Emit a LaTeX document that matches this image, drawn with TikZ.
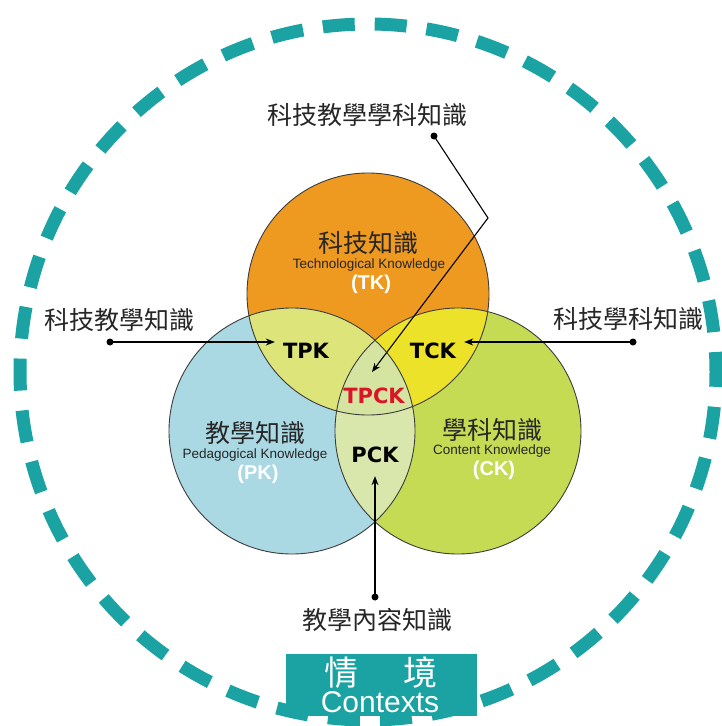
\documentclass[tikz,border=0pt]{standalone}
\usepackage{fontspec}
\setmainfont{Liberation Sans}
\newfontfamily\cjk{Noto Sans CJK TC}
\newfontfamily\heavy{DejaVu Sans}
\usetikzlibrary{arrows.meta}
\definecolor{tkc}{RGB}{238,154,32}
\definecolor{pkc}{RGB}{170,217,227}
\definecolor{ckc}{RGB}{198,219,84}
\definecolor{tpkc}{RGB}{220,228,122}
\definecolor{tckc}{RGB}{237,226,42}
\definecolor{pckc}{RGB}{218,231,172}
\definecolor{tpckc}{RGB}{214,228,162}
\definecolor{ctxc}{RGB}{27,163,163}
\definecolor{edgec}{RGB}{60,60,60}
\definecolor{tpckred}{RGB}{220,20,40}
\tikzset{
  zh/.style={font=\cjk\fontsize{25}{27}\selectfont, text=black!85, inner sep=0pt},
  en/.style={font=\fontsize{13.5}{15}\selectfont, text=black!85, inner sep=0pt},
  abbr/.style={font=\bfseries\fontsize{20}{22}\selectfont, text=white, inner sep=0pt},
  mid/.style={font=\heavy\bfseries\fontsize{21}{23}\selectfont, text=black, inner sep=0pt},
  outline/.style={draw=edgec, line width=0.9pt},
  conn/.style={line width=1.1pt, black},
  arr/.style={conn, -{Stealth[length=9pt,width=7pt]}},
  dot/.style={circle, fill=black, inner sep=0pt, minimum size=7pt}
}
\begin{document}
\begin{tikzpicture}[x=1pt,y=-1pt]
\useasboundingbox (0,0) rectangle (722,726);
\fill[white] (0,0) rectangle (722,726);

% context box
\fill[ctxc] (286,654) rectangle (477,716);

% dashed context circle
\draw[ctxc, line width=13pt, dash pattern=on 32pt off 20pt, dash phase=12pt]
  (368,372) circle[radius=348pt];

% circles
\coordinate (tkO) at (368,294);
\coordinate (pkO) at (292,431);
\coordinate (ckO) at (458,431);
\fill[tkc] (tkO) circle[radius=121pt];
\fill[pkc] (pkO) circle[radius=123pt];
\fill[ckc] (ckO) circle[radius=123pt];
\begin{scope}
  \clip (tkO) circle[radius=121pt];
  \fill[tpkc] (pkO) circle[radius=123pt];
  \fill[tckc] (ckO) circle[radius=123pt];
\end{scope}
\begin{scope}
  \clip (pkO) circle[radius=123pt];
  \fill[pckc] (ckO) circle[radius=123pt];
  \clip (ckO) circle[radius=123pt];
  \fill[tpckc] (tkO) circle[radius=121pt];
\end{scope}
\draw[outline] (tkO) circle[radius=121pt];
\draw[outline] (pkO) circle[radius=123pt];
\draw[outline] (ckO) circle[radius=123pt];

% circle labels
\node[zh] (tkzh) at (368,243) {科技知識};
\node[en] (tken) at (369,265) {Technological Knowledge};
\node[abbr] (tkab) at (371,284) {(TK)};
\node[zh] (pkzh) at (255,433) {教學知識};
\node[en] (pken) at (255,455) {Pedagogical Knowledge};
\node[abbr] (pkab) at (258,474) {(PK)};
\node[zh] (ckzh) at (492,430) {學科知識};
\node[en] (cken) at (492,451) {Content Knowledge};
\node[abbr] (ckab) at (494,470) {(CK)};

% overlap labels
\node[mid] (tpk) at (306,351) {TPK};
\node[mid] (tck) at (433,351) {TCK};
\node[mid, text=tpckred] (tpck) at (374,396) {TPCK};
\node[mid] (pck) at (375,455) {PCK};

% outside labels
\node[zh] (lbtop) at (367,115) {科技教學學科知識};
\node[zh] (lbleft) at (120,320) {科技教學知識};
\node[zh] (lbright) at (628,319) {科技學科知識};
\node[zh] (lbbot) at (377,620) {教學內容知識};

% connectors
\node[dot] (dtop) at (434,136) {};
\coordinate (bend) at (488,218);
\coordinate (ttop) at (372,372);
\draw[arr] (dtop.center) -- (bend) -- (ttop);

\node[dot] (dleft) at (110,342) {};
\draw[arr] (dleft.center) -- ([xshift=-8pt]dleft -| tpk.west);
\node[dot] (dright) at (633,342) {};
\draw[arr] (dright.center) -- ([xshift=8pt]dright -| tck.east);
\node[dot] (dbot) at (375,597) {};
\draw[arr] (dbot.center) -- ([yshift=-13pt]pck.south);

% context text
\node[font=\cjk\fontsize{34}{36}\selectfont, text=white, inner sep=0pt] (ctxzh) at (381,673) {情\hspace{1.35em}境};
\node[font=\fontsize{30}{32}\selectfont, text=white, inner sep=0pt] (ctxen) at (380,702) {Contexts};
\end{tikzpicture}
\end{document}
